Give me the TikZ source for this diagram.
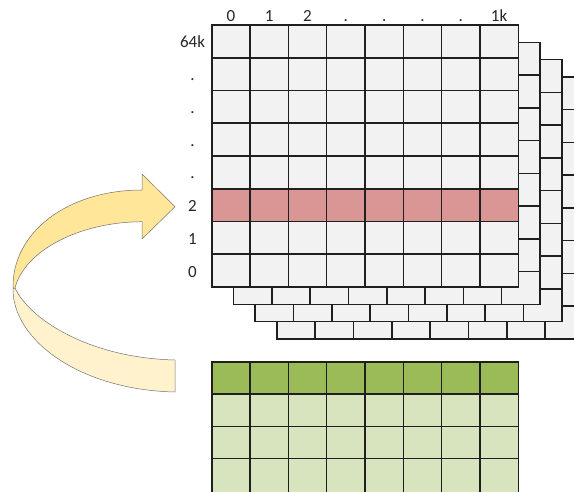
\documentclass[tikz,border=0pt]{standalone}
\usepackage{fontspec}
\setmainfont{Carlito}
\definecolor{cellgray}{HTML}{F2F2F2}
\definecolor{rowred}{HTML}{DA9694}
\definecolor{gdark}{HTML}{9BBB59}
\definecolor{glight}{HTML}{D7E4BD}
\definecolor{arrfront}{HTML}{FFE699}
\definecolor{arrback}{HTML}{FFF2CC}
\begin{document}
\begin{tikzpicture}[x=1pt,y=-1pt,
  gridline/.style={draw=black!88, line width=1.6pt, line cap=rect},
  lbl/.style={font=\fontsize{17}{20}\selectfont, inner sep=0pt, text=black!85, anchor=base},
  ribbon/.style={draw=black!55, line width=0.5pt, line join=round}]
\useasboundingbox (0,0) rectangle (574,491);
\clip (0,0) rectangle (574,491);

% stacked layers, back to front
\foreach \k in {3,2,1,0} {
  \begin{scope}[shift={({21.7*\k},{17.3*\k})}]
    \fill[cellgray] (211.7,25) rectangle (518.3,287);
    \ifnum\k=0
      \fill[rowred] (211.7,188.75) rectangle (518.3,221.5);
    \fi
    \foreach \i in {0,...,8}
      \draw[gridline] ({211.7+\i*38.325},25) -- ++(0,262);
    \foreach \j in {0,...,8}
      \draw[gridline] (211.7,{25+\j*32.75}) -- ++(306.6,0);
  \end{scope}
}

% column labels
\foreach \t [count=\i from 0] in {0,1,2,.,.,.,.,1k}
  \node[lbl] (c\i) at ({230.86+\i*38.325},21) {\t};
% row labels (top to bottom)
\foreach \t [count=\j from 0] in {64k,.,.,.,.,2,1,0}
  \node[lbl] (r\j) at (192.5,{25+16.375+\j*32.75+6.5}) {\t};

% green table
\fill[gdark] (211.7,361.7) rectangle (518.3,394);
\fill[glight] (211.7,394) rectangle (518.3,495);
\foreach \i in {0,...,8}
  \draw[gridline] ({211.7+\i*38.325},361.7) -- ++(0,135);
\foreach \j in {0,...,3}
  \draw[gridline] (211.7,{361.7+\j*32.3}) -- ++(306.6,0);

% curved ribbon arrow
\filldraw[ribbon, fill=arrback]
  (13,288) .. controls (12,340) and (80,390) .. (175,392)
  -- (175,360) .. controls (90,358) and (30,320) .. (15,288) -- cycle;
\filldraw[ribbon, fill=arrfront]
  (13,288) .. controls (12,232) and (68,190) .. (142,190)
  -- (142,174) -- (175,206.7) -- (142,239) -- (142,221.7)
  .. controls (80,222) and (25,250) .. (15,288) -- cycle;
\end{tikzpicture}
\end{document}
